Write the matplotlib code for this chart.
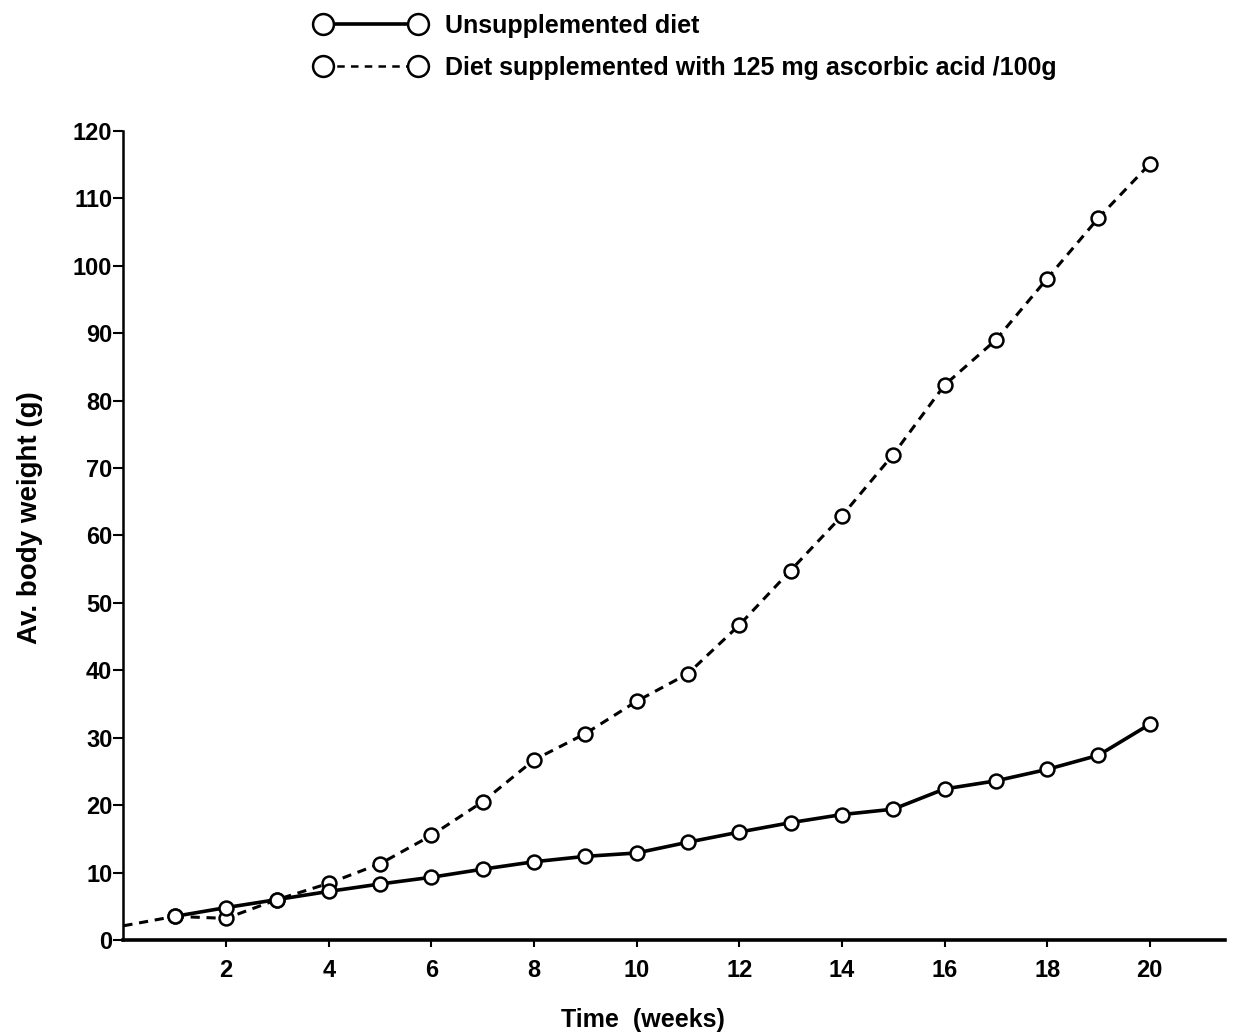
import matplotlib
matplotlib.use("Agg")
import matplotlib.pyplot as plt
from matplotlib.lines import Line2D

plt.rcParams['font.family'] = ['Liberation Sans', 'DejaVu Sans']
plt.rcParams['font.weight'] = 'bold'

# average body weight (g) per week
weeks = [1, 2, 3, 4, 5, 6, 7, 8, 9, 10, 11, 12, 13, 14, 15, 16, 17, 18, 19, 20]
unsupp = [3.5, 4.8, 6.0, 7.2, 8.3, 9.3, 10.5, 11.6, 12.4, 12.9,
          14.5, 16.0, 17.4, 18.6, 19.4, 22.4, 23.6, 25.3, 27.4, 32.0]
supp = [3.5, 3.2, 6.0, 8.4, 11.3, 15.5, 20.5, 26.7, 30.6, 35.4,
        39.5, 46.7, 54.8, 62.9, 72.0, 82.3, 89.0, 98.1, 107.1, 115.1]
supp_start = (0, 2.1)  # dashed line runs in from the axis

xticks = [2, 4, 6, 8, 10, 12, 14, 16, 18, 20]
yticks = [0, 10, 20, 30, 40, 50, 60, 70, 80, 90, 100, 110, 120]

labels = ["Unsupplemented diet",
          "Diet supplemented with 125 mg ascorbic acid /100g"]

fig = plt.figure(figsize=(12.38, 10.36), dpi=100)
ax = fig.add_axes([0.0997, 0.0927, 0.890, 0.7809])

ax.plot([supp_start[0]] + weeks[:1], [supp_start[1]] + supp[:1], color='black',
        lw=2.2, ls=(0, (3, 2.2)))
ax.plot(weeks, supp, color='black', lw=2.2, ls=(0, (3, 2.2)),
        marker='o', ms=10, mfc='white', mec='black', mew=1.8, zorder=3)
ax.plot(weeks, unsupp, color='black', lw=2.6, ls='-',
        marker='o', ms=10, mfc='white', mec='black', mew=1.8, zorder=4)

ax.set_xlim(0, 21.47)
ax.set_ylim(0, 120)
ax.set_xticks(xticks)
ax.set_yticks(yticks)
ax.tick_params(axis='both', labelsize=17, width=1.5, color='black')
ax.tick_params(axis='x', length=5, pad=9)
ax.tick_params(axis='y', length=7, pad=1)

for s in ['top', 'right']:
    ax.spines[s].set_visible(False)
ax.spines['bottom'].set_linewidth(2.6)
ax.spines['left'].set_linewidth(1.8)

fig.text(643 / 1238, 1 - 1020 / 1036, "Time  (weeks)", ha='center', va='center',
         fontsize=18, fontweight='bold')
fig.text(30 / 1238, 1 - 518 / 1036, "Av. body weight (g)", ha='center', va='center',
         rotation=90, fontsize=20, fontweight='bold')

handles = [
    Line2D([], [], color='black', lw=2.6, ls='-', marker='o', ms=15,
           mfc='white', mec='black', mew=1.8),
    Line2D([], [], color='black', lw=1.8, ls=(0, (3, 2.5)), marker='o', ms=15,
           mfc='white', mec='black', mew=1.8),
]
fig.legend(handles, labels, loc='upper left', bbox_to_anchor=(0.237, 1.008),
           frameon=False, numpoints=2, handlelength=4.4, handletextpad=0.75,
           labelspacing=0.7, prop={'size': 18, 'weight': 'bold'})

fig.savefig("out.png", dpi=100)
